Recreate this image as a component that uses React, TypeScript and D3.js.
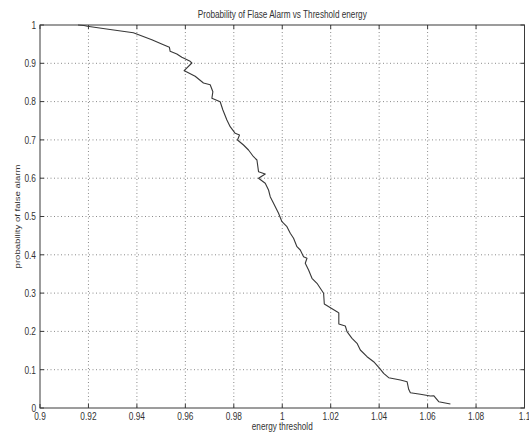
import React from "react";
import * as d3 from "d3";

const energyThreshold: number[] = [
  0.9157, 0.9182, 0.91955, 0.92893, 0.93855, 0.94616, 0.95095, 0.95343, 0.95372, 0.95649,
  0.95855, 0.96198, 0.96269, 0.9595, 0.96062, 0.96405, 0.96748, 0.97025, 0.97136, 0.97095,
  0.97438, 0.9755, 0.97715, 0.97851, 0.98058, 0.98236, 0.98153, 0.98401, 0.98607, 0.98814,
  0.98955, 0.99021, 0.99298, 0.99021, 0.99298, 0.99434, 0.99504, 0.9964, 0.99847, 0.99988,
  1.00194, 1.00331, 1.00467, 1.00607, 1.00744, 1.0088, 1.01021, 1.0095, 1.01087, 1.01227,
  1.01434, 1.0157, 1.01707, 1.01736, 1.0226, 1.02335, 1.02335, 1.02603, 1.02674, 1.0288,
  1.03087, 1.03223, 1.035, 1.03773, 1.04021, 1.04186, 1.04393, 1.04876, 1.05153, 1.05219,
  1.05289, 1.05702, 1.06116, 1.06252, 1.06459, 1.06942,
];

const falseAlarmProb: number[] = [
  1.0, 0.9987, 0.9966, 0.9883, 0.9799, 0.9616, 0.9486, 0.9418, 0.9313, 0.9243,
  0.9157, 0.9052, 0.9008, 0.8807, 0.8773, 0.8661, 0.8486, 0.8441, 0.8259, 0.8086,
  0.7997, 0.7781, 0.752, 0.7345, 0.7172, 0.7128, 0.6997, 0.6867, 0.6736, 0.6561,
  0.6475, 0.617, 0.611, 0.5997, 0.5867, 0.5692, 0.5517, 0.5345, 0.5084, 0.4864,
  0.4734, 0.4561, 0.4431, 0.4211, 0.4125, 0.395, 0.3909, 0.3778, 0.3603, 0.3386,
  0.3256, 0.3125, 0.2995, 0.2715, 0.2515, 0.248, 0.2193, 0.2141, 0.1992, 0.182,
  0.1689, 0.1514, 0.1339, 0.1209, 0.1037, 0.0906, 0.0791, 0.0731, 0.0687, 0.0488,
  0.0399, 0.0358, 0.0313, 0.0321, 0.0164, 0.0104,
];

const xTicks: number[] = [0.9, 0.92, 0.94, 0.96, 0.98, 1, 1.02, 1.04, 1.06, 1.08, 1.1];
const yTicks: number[] = [0, 0.1, 0.2, 0.3, 0.4, 0.5, 0.6, 0.7, 0.8, 0.9, 1];

const titleText = "Probability of Flase Alarm vs Threshold energy";
const xLabelText = "energy threshold";
const yLabelText = "probability of false alarm";

export default function App() {
  const W = 529;
  const H = 435;
  const left = 40;
  const right = 524.5;
  const top = 25;
  const bottom = 408;
  const x = d3.scaleLinear().domain([0.9, 1.1]).range([left, right]);
  const y = d3.scaleLinear().domain([0, 1]).range([bottom, top]);
  const pts = energyThreshold.map((e, i) => [e, falseAlarmProb[i]] as [number, number]);
  const line = d3
    .line<[number, number]>()
    .x((d) => x(d[0]))
    .y((d) => y(d[1]));
  const font = "'Liberation Sans', Arial, Helvetica, sans-serif";
  const sx = 0.82;
  const tsx = 0.77;
  const fmtX = (v: number) => (v === 1 ? "1" : String(+v.toFixed(2)));
  const fmtY = (v: number) => String(+v.toFixed(1));
  const tickLen = 4;
  const axisColor = "#3a3a3a";
  const textColor = "#333";

  return (
    <svg
      width={W}
      height={H}
      style={{ position: "absolute", left: 0, top: 0, background: "#fff" }}
      fontFamily={font}
    >
      <rect x={0} y={0} width={W} height={H} fill="#fff" />
      <g stroke="#8a8a8a" strokeWidth={1} strokeDasharray="1,2.5" fill="none">
        {xTicks.slice(1, -1).map((t) => (
          <line key={"gx" + t} x1={x(t)} x2={x(t)} y1={top} y2={bottom} />
        ))}
        {yTicks.slice(1, -1).map((t) => (
          <line key={"gy" + t} x1={left} x2={right} y1={y(t)} y2={y(t)} />
        ))}
      </g>
      <path d={line(pts) || ""} fill="none" stroke="#383838" strokeWidth={1.1} strokeLinejoin="round" />
      <rect x={left} y={top} width={right - left} height={bottom - top} fill="none" stroke={axisColor} strokeWidth={1} />
      <g stroke={axisColor} strokeWidth={1}>
        {xTicks.map((t) => (
          <g key={"tx" + t}>
            <line x1={x(t)} x2={x(t)} y1={bottom} y2={bottom - tickLen} />
            <line x1={x(t)} x2={x(t)} y1={top} y2={top + tickLen} />
          </g>
        ))}
        {yTicks.map((t) => (
          <g key={"ty" + t}>
            <line x1={left} x2={left + tickLen} y1={y(t)} y2={y(t)} />
            <line x1={right} x2={right - tickLen} y1={y(t)} y2={y(t)} />
          </g>
        ))}
      </g>
      <g fill={textColor} fontSize={10.8}>
        {xTicks.map((t) => (
          <text
            key={"lx" + t}
            transform={`translate(${x(t)},${bottom + 12}) scale(${tsx},1)`}
            textAnchor="middle"
          >
            {fmtX(t)}
          </text>
        ))}
        {yTicks.map((t) => (
          <text
            key={"ly" + t}
            transform={`translate(${left - 4},${y(t) + 3.8}) scale(${tsx},1)`}
            textAnchor="end"
          >
            {fmtY(t)}
          </text>
        ))}
      </g>
      <text
        transform={`translate(${(left + right) / 2},${18}) scale(${sx},1)`}
        textAnchor="middle"
        fontSize={10}
        fill={textColor}
      >
        {titleText}
      </text>
      <text
        transform={`translate(${(left + right) / 2},${430}) scale(${sx},1)`}
        textAnchor="middle"
        fontSize={10}
        fill={textColor}
      >
        {xLabelText}
      </text>
      <text
        transform={`translate(${20},${(top + bottom) / 2}) rotate(-90) scale(1,${sx})`}
        textAnchor="middle"
        fontSize={9.6}
        fill={textColor}
      >
        {yLabelText}
      </text>
    </svg>
  );
}
